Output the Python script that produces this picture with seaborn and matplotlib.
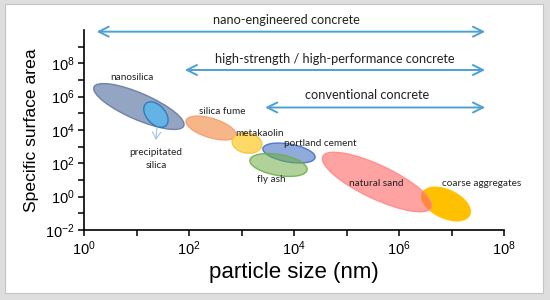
import math

import matplotlib

matplotlib.use("Agg")
import matplotlib.pyplot as plt
import seaborn as sns
from matplotlib.patches import Ellipse, Rectangle
from matplotlib.transforms import IdentityTransform

# materials: each ellipse given by the two ends of its long axis
# (log10 particle size in nm, log10 specific surface area) and its thickness ratio
materials = ["nanosilica", "precipitated silica", "silica fume", "metakaolin",
             "portland cement", "fly ash", "coarse aggregates", "natural sand"]
size_start = [0.19, 1.18, 1.945, 2.823, 3.408, 3.16, 6.446, 4.549]
area_start = [6.58, 5.59, 4.575, 3.375, 2.895, 2.20, 0.22, 2.415]
size_end = [1.90, 1.56, 2.893, 3.387, 4.402, 4.25, 7.345, 6.613]
area_end = [4.24, 4.26, 3.663, 3.063, 2.343, 1.60, -1.10, -0.656]
thickness = [0.27, 0.63, 0.37, 0.67, 0.34, 0.36, 0.54, 0.28]

# concrete types: log10 particle size range covered
concrete_types = ["nano-engineered concrete",
                  "high-strength / high-performance concrete",
                  "conventional concrete"]
concrete_from = [0.24, 1.92, 3.45]
concrete_to = [7.64, 7.64, 7.64]

x_ticks = [0, 2, 4, 6, 8]
y_ticks = [-2, 0, 2, 4, 6, 8]

face_colors = ["#93a5c2", "#63b3e6", "#f7b58a", "#ffd966",
               "#4472c4", "#70ad47", "#ffc000", "#ff6464"]
edge_colors = ["#667c9e", "#2e75b6", "#f3a070", "#f5c443",
               "#4472c4", "#70ad47", "#ffc000", "#ff8a8a"]
face_alpha = [1.0, 1.0, 1.0, 1.0, 0.6, 0.55, 1.0, 0.6]

label_pos = [(0.914, 7.12), (1.371, 2.26), (2.629, 5.14), (3.352, 3.76),
             (4.495, 3.22), (3.562, 1.0), (7.581, 0.82), (5.562, 0.82)]
label_text = ["nanosilica", "precipitated\nsilica", "silica fume", "metakaolin",
              "portland cement", "fly ash", "coarse aggregates", "natural sand"]
arrow_y = [9.9, 7.6, 5.35]
arrow_text_pos = [(3.857, 10.6), (4.781, 8.26), (5.39, 6.1)]

sns.set_theme(style="ticks")
plt.rcParams["font.family"] = ["Liberation Sans", "DejaVu Sans"]
plt.rcParams["mathtext.fontset"] = "custom"
plt.rcParams["mathtext.rm"] = "Liberation Sans"
plt.rcParams["mathtext.it"] = "Liberation Sans:italic"
plt.rcParams["mathtext.bf"] = "Liberation Sans:bold"

fig = plt.figure(figsize=(5.5, 3), dpi=100)
fig.patch.set_facecolor("#dedede")
fig.patches.append(Rectangle((5 / 550, 7 / 300), 538 / 550, 289 / 300,
                             transform=fig.transFigure, facecolor="white",
                             edgecolor="#c4c4c4", linewidth=0.8, zorder=-5))

ax = fig.add_axes([84 / 550, 70 / 300, 420 / 550, 200 / 300])
ax.set_facecolor("none")
ax.set_xlim(0, 8)
ax.set_ylim(-2, 10)
sns.despine(ax=ax)
for side in ["left", "bottom"]:
    ax.spines[side].set_linewidth(1.2)
    ax.spines[side].set_color("black")

ax.set_xticks(x_ticks)
ax.set_xticklabels([f"$10^{{{t}}}$" for t in x_ticks])
ax.set_yticks(y_ticks)
ax.set_yticklabels([f"$10^{{{t}}}$" for t in y_ticks])
ax.set_xticks([1, 3, 5, 7], minor=True)
ax.set_yticks([-1, 1, 3, 5, 7, 9], minor=True)
ax.tick_params(which="both", direction="out", length=4.5, width=1.1,
               color="black", labelsize=10.5, labelcolor="black", pad=2.5)

ax.set_xlabel("particle size (nm)", fontsize=16, labelpad=3, color="black")
ax.set_ylabel("Specific surface area", fontsize=12.6, labelpad=4, color="black")

# ellipses are built in pixel space so their tilt follows the picture
for i in range(len(materials)):
    (x1, y1), (x2, y2) = ax.transData.transform(
        [(size_start[i], area_start[i]), (size_end[i], area_end[i])])
    length = math.hypot(x2 - x1, y2 - y1)
    angle = math.degrees(math.atan2(y2 - y1, x2 - x1))
    ax.add_patch(Ellipse(((x1 + x2) / 2, (y1 + y2) / 2), length, length * thickness[i],
                         angle=angle, transform=IdentityTransform(),
                         facecolor=face_colors[i], alpha=face_alpha[i],
                         edgecolor="none", zorder=2 + i))
    ax.add_patch(Ellipse(((x1 + x2) / 2, (y1 + y2) / 2), length, length * thickness[i],
                         angle=angle, transform=IdentityTransform(),
                         facecolor="none", edgecolor=edge_colors[i],
                         linewidth=1.0, alpha=0.9, zorder=2 + i))

for (tx, ty), txt in zip(label_pos, label_text):
    ax.text(tx, ty, txt, ha="center", va="center", fontsize=7.2,
            family=["Lato", "DejaVu Sans"], color="#222222",
            linespacing=1.5, zorder=20)

# small pointer from precipitated silica down to its label
ax.annotate("", xy=(1.371, 3.4), xytext=(1.39, 4.18),
            arrowprops=dict(arrowstyle="->,head_length=0.5,head_width=0.3",
                            color="#9dc3e6", lw=0.8, shrinkA=0, shrinkB=0,
                            mutation_scale=10), zorder=15)

for name, x0, x1, y, (tx, ty) in zip(concrete_types, concrete_from, concrete_to,
                                     arrow_y, arrow_text_pos):
    ax.annotate("", xy=(x1, y), xytext=(x0, y), annotation_clip=False,
                arrowprops=dict(arrowstyle="<->,head_length=0.6,head_width=0.3",
                                color="#4da0d4", lw=1.4, shrinkA=0, shrinkB=0,
                                mutation_scale=12))
    ax.text(tx, ty, name, ha="center", va="center", fontsize=9.2,
            family=["Lato", "DejaVu Sans"], color="#222222", clip_on=False)

fig.savefig("out.png", dpi=100, facecolor=fig.get_facecolor())
